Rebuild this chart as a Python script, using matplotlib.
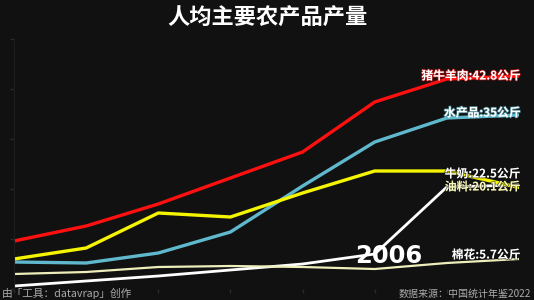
import matplotlib
matplotlib.use("Agg")
import matplotlib.pyplot as plt
import matplotlib.patheffects as pe

plt.rcParams['font.family'] = ['Noto Sans CJK SC', 'DejaVu Sans']

years = [1978, 1980, 1985, 1990, 1995, 2000, 2005, 2006]
meat = [9.6, 12.6, 17.0, 22.2, 27.4, 37.4, 42.0, 42.6]
aquatic = [5.4, 5.2, 7.2, 11.4, 20.6, 29.4, 34.2, 34.8]
oil = [6.0, 8.2, 15.2, 14.4, 19.2, 23.6, 23.6, 20.3]
milk = [0.6, 1.6, 2.6, 3.8, 5.0, 7.0, 20.4, 20.8]
cotton = [3.0, 3.4, 4.4, 4.6, 4.4, 4.0, 5.2, 6.0]

names = ["猪牛羊肉", "水产品", "牛奶", "油料", "棉花"]
label_values = ["42.8", "35", "22.5", "20.1", "5.7"]
colors = ["#ff1010", "#5fb8cc", "#ffffff", "#f5f500", "#eeeebb"]
label_y = [42.6, 35.2, 23.0, 20.4, 6.8]
text_colors = ["#ffffff", "#ffffff", "#ffffff", "#f7f7b8", "#ffffff"]
stroke_colors = ["#ff1010", "#5fb8cc", "#111111", "#111111", "#111111"]

bg = "#111111"
fig = plt.figure(figsize=(5.34, 3.0), dpi=100, facecolor=bg)
ax = fig.add_axes([14 / 534, 11 / 300, 505 / 534, 250 / 300], facecolor=bg)

x = list(range(len(years)))
series = [meat, aquatic, milk, oil, cotton]
widths = [2.4, 2.4, 2.0, 2.4, 1.6]
for s, c, w in zip(series, colors, widths):
    ax.plot(x, s, color=c, lw=w, solid_capstyle="round")

for n, v, yy, sc, tc in zip(names, label_values, label_y, stroke_colors, text_colors):
    ax.text(7.02, yy, f"{n}:{v}公斤", color=tc, fontsize=8.5, fontweight="bold",
            ha="right", va="center",
            path_effects=[pe.withStroke(linewidth=1.2, foreground=sc, alpha=0.6)])

ax.text(5.2, 6.6, str(years[-1]), color="white", fontsize=17.5, fontweight="bold",
        ha="center", va="center", family="DejaVu Sans")

ax.set_xlim(0, 7)
ax.set_ylim(0, 50)
ax.set_xticks(x)
ax.set_xticklabels([])
ax.set_yticks([0, 10, 20, 30, 40, 50])
ax.set_yticklabels([])
ax.tick_params(colors="#2a2a2a", length=3, width=1)
for sp in ["top", "right", "bottom"]:
    ax.spines[sp].set_visible(False)
ax.spines["left"].set_color("#1e1e1e")

fig.text(0.5, 0.94, "人均主要农产品产量", color="white", fontsize=16,
         fontweight="bold", ha="center", va="center")
fig.text(0.004, 0.022, "由「工具：datavrap」创作", color="#aaaaaa", fontsize=7.7,
         ha="left", va="center")
fig.text(0.995, 0.022, "数据来源：中国统计年鉴2022", color="#aaaaaa", fontsize=7.2,
         ha="right", va="center")

fig.savefig("out.png", dpi=100, facecolor=bg)
